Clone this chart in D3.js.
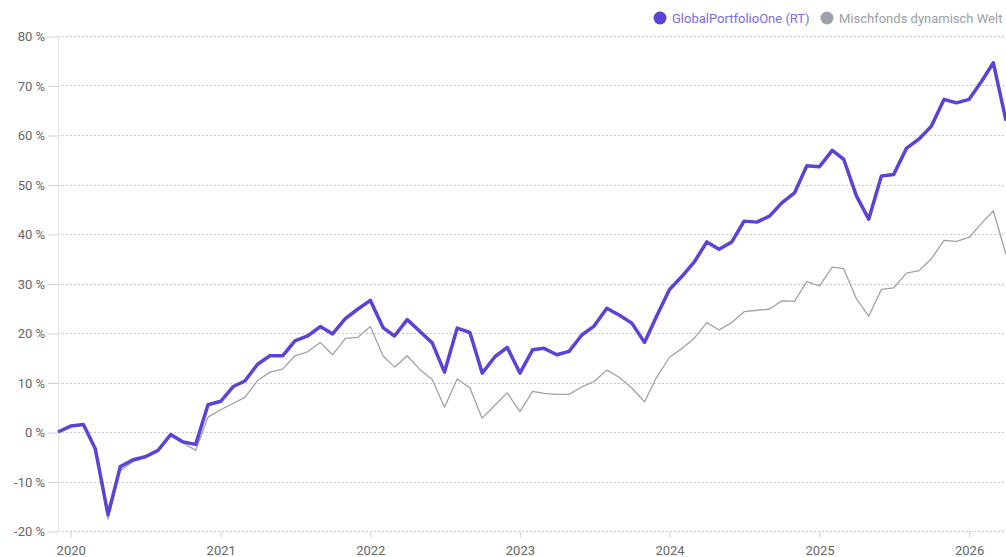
<!DOCTYPE html>
<html>
<head>
<meta charset="utf-8">
<script src="https://cdn.jsdelivr.net/npm/d3@7"></script>
<style>
  html, body { margin: 0; padding: 0; background: #fff; overflow: hidden; }
  svg { display: block; font-family: Roboto, "Open Sans", Arial, sans-serif; }
</style>
</head>
<body>
<svg id="chart" width="1006" height="557"></svg>
<script>
// Monthly points, Dec 2019 .. Apr 2026
const startMonth = "2019-12";
const seriesNames = ["GlobalPortfolioOne (RT)", "Mischfonds dynamisch Welt"];
const gpoValues = [
  0, 1.2, 1.5, -3.4, -16.7, -7.0, -5.6, -5.0, -3.7, -0.5, -2.0, -2.5,
  5.5, 6.2, 9.2, 10.3, 13.7, 15.4, 15.4, 18.4, 19.4, 21.3, 19.8, 22.9,
  24.8, 26.6, 21.1, 19.4, 22.7, 20.4, 18.0, 12.1, 21.0, 20.1, 11.9, 15.2,
  17.1, 11.9, 16.6, 16.9, 15.6, 16.3, 19.6, 21.4, 25.0, 23.6, 22.0, 18.1,
  23.5, 28.8, 31.5, 34.3, 38.4, 36.9, 38.4, 42.6, 42.4, 43.6, 46.3, 48.3,
  53.8, 53.6, 56.9, 55.1, 47.7, 43.0, 51.7, 52.0, 57.3, 59.2, 61.8, 67.2,
  66.5, 67.2, 70.9, 74.6, 62.9
];
const peerValues = [
  0, 1.2, 1.5, -3.4, -17.6, -7.8, -6.0, -5.2, -3.8, -0.8, -2.2, -3.7,
  3.0, 4.5, 5.8, 7.0, 10.4, 12.1, 12.7, 15.4, 16.2, 18.1, 15.6, 18.9,
  19.1, 21.3, 15.4, 13.1, 15.4, 12.7, 10.6, 5.0, 10.7, 8.9, 2.8, 5.4,
  7.9, 4.1, 8.2, 7.8, 7.6, 7.6, 9.1, 10.2, 12.5, 11.0, 8.9, 6.1,
  11.1, 15.1, 16.9, 18.9, 22.1, 20.6, 22.1, 24.3, 24.6, 24.8, 26.5, 26.4,
  30.4, 29.5, 33.3, 33.0, 26.9, 23.4, 28.8, 29.1, 32.1, 32.6, 35.0, 38.7,
  38.5, 39.3, 42.2, 44.7, 35.9
];
const yTicks = [-20, -10, 0, 10, 20, 30, 40, 50, 60, 70, 80];
const xTickYears = [2020, 2021, 2022, 2023, 2024, 2025, 2026];
const colors = ["#5a43d6", "#9ea2aa"];
const legendTextColors = ["#7a6de0", "#9a9ea6"];

const parseMonth = d3.timeParse("%Y-%m");
const t0 = parseMonth(startMonth);
const dates = gpoValues.map((_, i) => d3.timeMonth.offset(t0, i));

const svg = d3.select("#chart");
const W = 1006, H = 557;
const m = { left: 58, right: 0, top: 36, bottom: 26 };

const x = d3.scaleTime()
  .domain([dates[0], dates[dates.length - 1]])
  .range([m.left, W - m.right]);
const y = d3.scaleLinear()
  .domain([-20, 80])
  .range([H - m.bottom + 0.5 - 0.5, m.top]);

// Gridlines
const grid = svg.append("g").attr("class", "grid");
grid.selectAll("line").data(yTicks).join("line")
  .attr("x1", m.left).attr("x2", W)
  .attr("y1", d => Math.round(y(d)) + 0.5).attr("y2", d => Math.round(y(d)) + 0.5)
  .attr("stroke", "#c8c8c8").attr("stroke-width", 1)
  .attr("stroke-dasharray", "2,2");

// Vertical axis line
svg.append("line")
  .attr("x1", m.left + 0.5).attr("x2", m.left + 0.5)
  .attr("y1", m.top).attr("y2", Math.round(y(-20)) + 1)
  .attr("stroke", "#e6e6e6").attr("stroke-width", 1);

// Y axis
const yAxis = d3.axisLeft(y).tickValues(yTicks).tickSize(10).tickPadding(3)
  .tickFormat(d => d + " %");
const yg = svg.append("g").attr("transform", `translate(${m.left},0.5)`).call(yAxis);
yg.select(".domain").remove();
yg.selectAll(".tick line").attr("stroke", "#d0d0d0");
yg.selectAll(".tick text").attr("fill", "#666").attr("font-size", 13)
  .attr("font-family", "Roboto, Arial, sans-serif");

// X axis
const xAxis = d3.axisBottom(x)
  .tickValues(xTickYears.map(yv => new Date(yv, 0, 1)))
  .tickSize(6).tickPadding(8)
  .tickFormat(d3.timeFormat("%Y"));
const xg = svg.append("g").attr("transform", `translate(0,${Math.round(y(-20)) + 0.5})`).call(xAxis);
xg.select(".domain").remove();
xg.selectAll(".tick line").attr("stroke", "#d0d0d0");
xg.selectAll(".tick text").attr("fill", "#666").attr("font-size", 13)
  .attr("font-family", "Roboto, Arial, sans-serif");

// Lines
const line = d3.line().x((d, i) => x(dates[i])).y(d => y(d));
svg.append("path").datum(peerValues)
  .attr("fill", "none").attr("stroke", colors[1]).attr("stroke-width", 1.3)
  .attr("stroke-linejoin", "round").attr("d", line);
svg.append("path").datum(gpoValues)
  .attr("fill", "none").attr("stroke", colors[0]).attr("stroke-width", 3.5)
  .attr("stroke-linejoin", "round").attr("d", line);

// Legend
const legendItems = [
  { name: seriesNames[0], cx: 660, tx: 672 },
  { name: seriesNames[1], cx: 827, tx: 839 }
];
const lg = svg.append("g");
legendItems.forEach((it, i) => {
  lg.append("circle").attr("cx", it.cx).attr("cy", 18).attr("r", 6.5).attr("fill", colors[i]);
  lg.append("text").attr("x", it.tx).attr("y", 22.5)
    .attr("font-size", 13).attr("fill", legendTextColors[i])
    .attr("font-family", "Roboto, Arial, sans-serif")
    .text(it.name);
});
</script>
</body>
</html>
